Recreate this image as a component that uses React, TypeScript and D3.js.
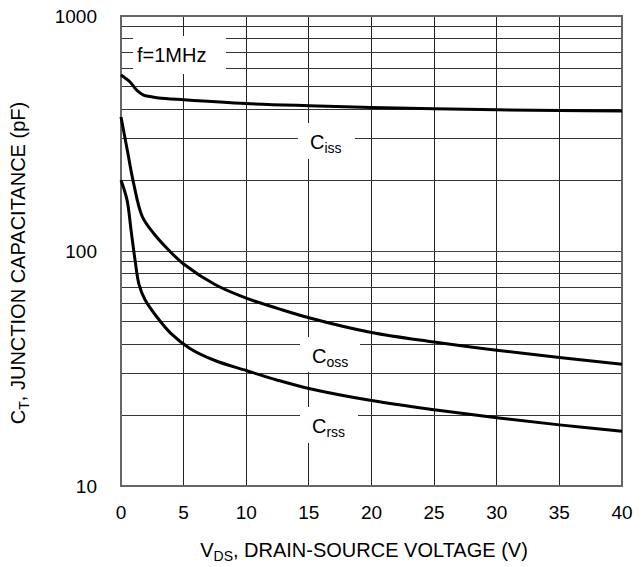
import React, { useEffect, useRef } from "react";
import * as d3 from "d3";

// values (V, pF)
const vIss = [0, 0.7, 1.25, 1.8, 2.3, 3, 5, 10, 15, 20, 25, 30, 35, 40];
const cIss = [561, 525, 484, 461, 454, 448, 440, 424, 415, 408, 403, 399, 396, 394];

const vOss = [0, 0.5, 1, 1.7, 2.6, 3.8, 5, 7.5, 10, 12.5, 15, 20, 25, 30, 35, 40];
const cOss = [372, 269, 195, 140, 119, 101, 88, 72, 63, 57, 52, 45, 41, 37.8, 35.2, 33];

const vRss = [0, 0.48, 0.8, 1.12, 1.44, 1.92, 2.85, 4, 5.5, 7.5, 10, 12.5, 15, 20, 25, 30, 35, 40];
const cRss = [200, 165, 123, 91.6, 72, 62, 52.5, 44.5, 38.5, 34.2, 31, 28.2, 26, 23.1, 21.1, 19.5, 18.2, 17.1];

const xTicks = [0, 5, 10, 15, 20, 25, 30, 35, 40];
const yTicks = [10, 100, 1000];

const FONT = "'Liberation Sans', Arial, sans-serif";

export default function App() {
  const ref = useRef<SVGSVGElement>(null);

  useEffect(() => {
    document.body.style.margin = "0";
    const svg = d3.select(ref.current);
    svg.selectAll("*").remove();

    const x = d3.scaleLinear().domain([0, 40]).range([121, 622]);
    const y = d3.scaleLog().domain([10, 1000]).range([486, 16]);

    // grid
    const grid = svg.append("g").attr("shape-rendering", "crispEdges");
    xTicks.slice(1, -1).forEach((t) => {
      grid.append("line")
        .attr("x1", x(t)).attr("x2", x(t))
        .attr("y1", y(1000)).attr("y2", y(10))
        .attr("stroke", "#222").attr("stroke-width", 1);
    });
    const minor: number[] = [];
    [10, 100].forEach((d) => {
      for (let k = 1; k < 10; k++) if (d * k !== 10) minor.push(d * k);
    });
    minor.forEach((v) => {
      grid.append("line")
        .attr("x1", x(0)).attr("x2", x(40))
        .attr("y1", y(v)).attr("y2", y(v))
        .attr("stroke", v === 100 ? "#444" : "#333").attr("stroke-width", 1);
    });

    // white boxes behind labels (they cut the grid)
    const boxes = [
      [133, 36, 93, 38],
      [298, 123, 57, 36],
      [300, 337, 60, 35],
      [300, 407, 58, 36],
    ];
    boxes.forEach(([bx, by, bw, bh]) => {
      svg.append("rect").attr("x", bx).attr("y", by)
        .attr("width", bw).attr("height", bh).attr("fill", "#fff");
    });

    // frame
    svg.append("rect")
      .attr("x", x(0)).attr("y", y(1000))
      .attr("width", x(40) - x(0)).attr("height", y(10) - y(1000))
      .attr("fill", "none").attr("stroke", "#666").attr("stroke-width", 2);

    // curves
    const line = d3.line<[number, number]>()
      .x((d) => x(d[0]))
      .y((d) => y(d[1]))
      .curve(d3.curveCatmullRom.alpha(0.5));

    [[vIss, cIss], [vOss, cOss], [vRss, cRss]].forEach(([vs, cs]) => {
      const pts = vs.map((v, i) => [v, cs[i]] as [number, number]);
      svg.append("path")
        .attr("d", line(pts))
        .attr("fill", "none").attr("stroke", "#000")
        .attr("stroke-width", 3).attr("stroke-linejoin", "round");
    });

    // tick labels
    const txt = svg.append("g").attr("font-family", FONT).attr("fill", "#000");
    xTicks.forEach((t) => {
      txt.append("text").attr("x", x(t)).attr("y", 519)
        .attr("text-anchor", "middle").attr("font-size", 19).text(t);
    });
    yTicks.forEach((t) => {
      txt.append("text").attr("x", 97).attr("y", y(t)).attr("dy", "0.35em")
        .attr("text-anchor", "end").attr("font-size", 19).text(t);
    });

    // axis titles
    const xt = txt.append("text").attr("x", 364).attr("y", 557)
      .attr("text-anchor", "middle").attr("font-size", 20);
    xt.append("tspan").text("V");
    xt.append("tspan").attr("font-size", 14).attr("dy", 4).text("DS");
    xt.append("tspan").attr("dy", -4).text(", DRAIN-SOURCE VOLTAGE (V)");

    const yt = txt.append("text")
      .attr("transform", "translate(25,263) rotate(-90)")
      .attr("text-anchor", "middle").attr("font-size", 20);
    yt.append("tspan").text("C");
    yt.append("tspan").attr("font-size", 14).attr("dy", 4).text("T");
    yt.append("tspan").attr("dy", -4).text(", JUNCTION CAPACITANCE (pF)");

    // annotations
    txt.append("text").attr("x", 137).attr("y", 62).attr("font-size", 20).text("f=1MHz");
    const caps = [
      ["iss", 310, 149],
      ["oss", 312, 363],
      ["rss", 312, 433],
    ] as [string, number, number][];
    caps.forEach(([s, cx, cy]) => {
      const t = txt.append("text").attr("x", cx).attr("y", cy).attr("font-size", 20);
      t.append("tspan").text("C");
      t.append("tspan").attr("font-size", 14).attr("dy", 4).text(s);
    });
  }, []);

  return <svg ref={ref} width={643} height={567} style={{ display: "block", background: "#fff" }} />;
}
